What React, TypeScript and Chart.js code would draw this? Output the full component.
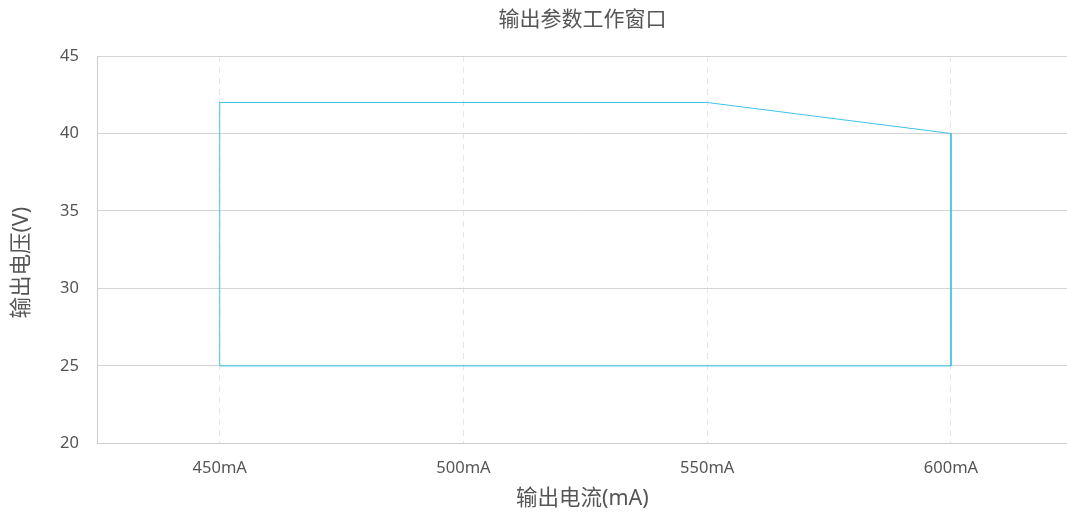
import React, { useEffect, useRef } from "react";
import { Chart, registerables } from "chart.js";

Chart.register(...registerables);

const CURRENT_MA = [450, 450, 550, 600, 600, 450];
const VOLTAGE_V = [25, 42, 42, 40, 25, 25];
const X_TICKS = [450, 500, 550, 600];
const TITLE = "输出参数工作窗口";
const X_TITLE = "输出电流(mA)";
const Y_TITLE = "输出电压(V)";

const FONT = "'Noto Sans', 'Noto Sans CJK SC', sans-serif";
const TEXT_COLOR = "#555";

const titlesPlugin = {
  id: "titlesPlugin",
  afterDraw(chart: any) {
    const { ctx, chartArea } = chart;
    ctx.save();
    ctx.fillStyle = TEXT_COLOR;
    ctx.textAlign = "center";
    ctx.textBaseline = "middle";
    ctx.font = `21px ${FONT}`;
    ctx.fillText(TITLE, (chartArea.left + chartArea.right) / 2, 20);
    ctx.font = `21.5px ${FONT}`;
    ctx.translate(22, (chartArea.top + chartArea.bottom) / 2 + 13);
    ctx.rotate(-Math.PI / 2);
    ctx.fillText(Y_TITLE, 0, 0);
    ctx.restore();
  },
};

export default function App() {
  const ref = useRef<HTMLCanvasElement | null>(null);

  useEffect(() => {
    document.body.style.margin = "0";
    if (!ref.current) return;
    const chart = new Chart(ref.current, {
      type: "scatter",
      data: {
        datasets: [
          {
            data: CURRENT_MA.map((x, i) => ({ x, y: VOLTAGE_V[i] })),
            showLine: true,
            borderColor: "#3fc3e6",
            borderWidth: 1,
            pointRadius: 0,
            fill: false,
            tension: 0,
          },
        ],
      },
      plugins: [titlesPlugin],
      options: {
        animation: false,
        responsive: false,
        maintainAspectRatio: false,
        layout: { padding: { top: 56, right: 0, left: 41, bottom: 4 } },
        plugins: {
          legend: { display: false },
          tooltip: { enabled: false },
          title: { display: false },
        },
        scales: {
          x: {
            type: "linear",
            min: 425,
            max: 623.8,
            afterBuildTicks: (axis: any) => {
              axis.ticks = X_TICKS.map((v) => ({ value: v }));
            },
            ticks: {
              color: TEXT_COLOR,
              font: { family: FONT, size: 16.5 },
              padding: 15,
              callback: (v: any) => `${v}mA`,
              autoSkip: false,
              maxRotation: 0,
            },
            grid: {
              color: "#e6e6e6",
              lineWidth: 1,
              drawTicks: false,
            },
            border: { display: true, color: "#cccccc", width: 1, dash: [6, 5] },
            title: {
              display: true,
              text: X_TITLE,
              color: TEXT_COLOR,
              font: { family: FONT, size: 21.5 },
              padding: { top: -7, bottom: 0 },
            },
          },
          y: {
            min: 20,
            max: 45,
            ticks: {
              stepSize: 5,
              color: TEXT_COLOR,
              font: { family: FONT, size: 16.5 },
              padding: 19,
            },
            grid: {
              color: "#d4d4d4",
              lineWidth: 1,
              drawTicks: false,
            },
            border: { display: true, color: "#cccccc", width: 1 },
            title: { display: false },
          },
        },
      },
    });
    return () => chart.destroy();
  }, []);

  return (
    <div style={{ position: "absolute", left: 0, top: 0, width: 1067, height: 516 }}>
      <canvas ref={ref} width={1067} height={516} style={{ width: 1067, height: 516 }} />
    </div>
  );
}
